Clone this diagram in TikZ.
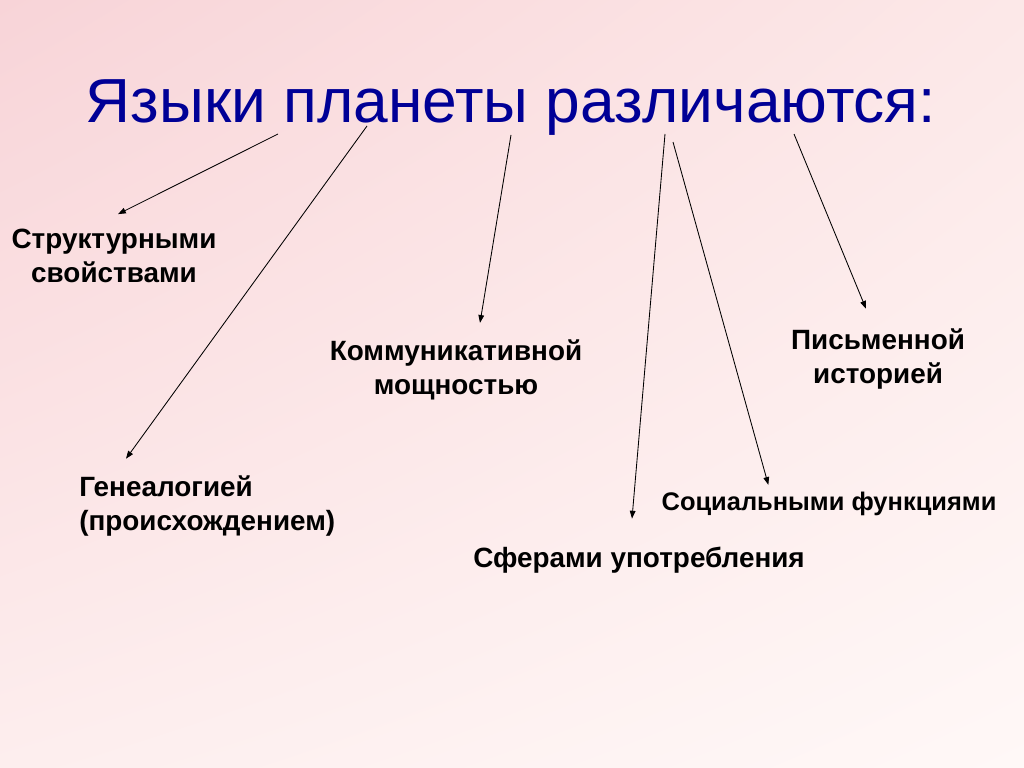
\documentclass[tikz,border=0pt]{standalone}
\usepackage{fontspec}
\setmainfont{Liberation Sans}
\usetikzlibrary{arrows.meta,shadings}
\definecolor{slideblue}{RGB}{0,0,150}
\definecolor{pinkA}{RGB}{248,212,216}
\definecolor{pinkB}{RGB}{252,232,232}
\definecolor{pinkC}{RGB}{253,238,238}
\definecolor{pinkD}{RGB}{255,248,247}
\begin{document}
\begin{tikzpicture}[x=0.703125pt,y=0.703125pt]
		\tikzset{heading/.style={inner sep=0pt,text=slideblue,font=\fontsize{43.8}{50}\selectfont}}
		\tikzset{kind/.style={inner sep=0pt,align=center,font=\fontsize{19.6}{23.5}\selectfont\bfseries}} %one label per property
		\tikzset{arr/.style={-{Triangle[length=5.5pt,width=4pt]},line width=0.6pt}}
		\shade[upper left=pinkA,upper right=pinkB,lower left=pinkC,lower right=pinkD] (0,0) rectangle (1024,-768);
		\useasboundingbox (0,0) rectangle (1024,-768);
\node[heading,anchor=base] (title) at (511,-123) {Языки планеты различаются:};
\node[kind] (struct) at (114,-256) {Структурными\\свойствами};
\node[kind,align=left,anchor=west] (gen) at (79,-506) {Генеалогией\\(происхождением)};
\node[kind] (komm) at (456,-370) {Коммуникативной\\мощностью};
\node[kind] (pism) at (878,-359) {Письменной\\историей};
\node[kind,font=\fontsize{17.9}{21}\selectfont\bfseries] (soc) at (829,-504) {Социальными функциями};
\node[kind] (sfer) at (639,-560) {Сферами употребления};
\coordinate (t1) at (278,-134);
\coordinate (t2) at (367,-126);
\coordinate (t3) at (511,-135);
\coordinate (t4) at (665,-134);
\coordinate (t5) at (673,-142);
\coordinate (t6) at (794,-134);
\draw[arr] (t1) -- ([shift={(4,15)}]struct.north);
\draw[arr] (t2) -- ([shift={(47,17)}]gen.north west);
\draw[arr] (t3) -- ([shift={(24,17)}]komm.north);
\draw[arr] (t4) -- ([shift={(-7,28)}]sfer.north);
\draw[arr] (t5) -- ([shift={(107,7)}]soc.north west);
\draw[arr] (t6) -- ([shift={(-12,20)}]pism.north);
\end{tikzpicture}
\end{document}
